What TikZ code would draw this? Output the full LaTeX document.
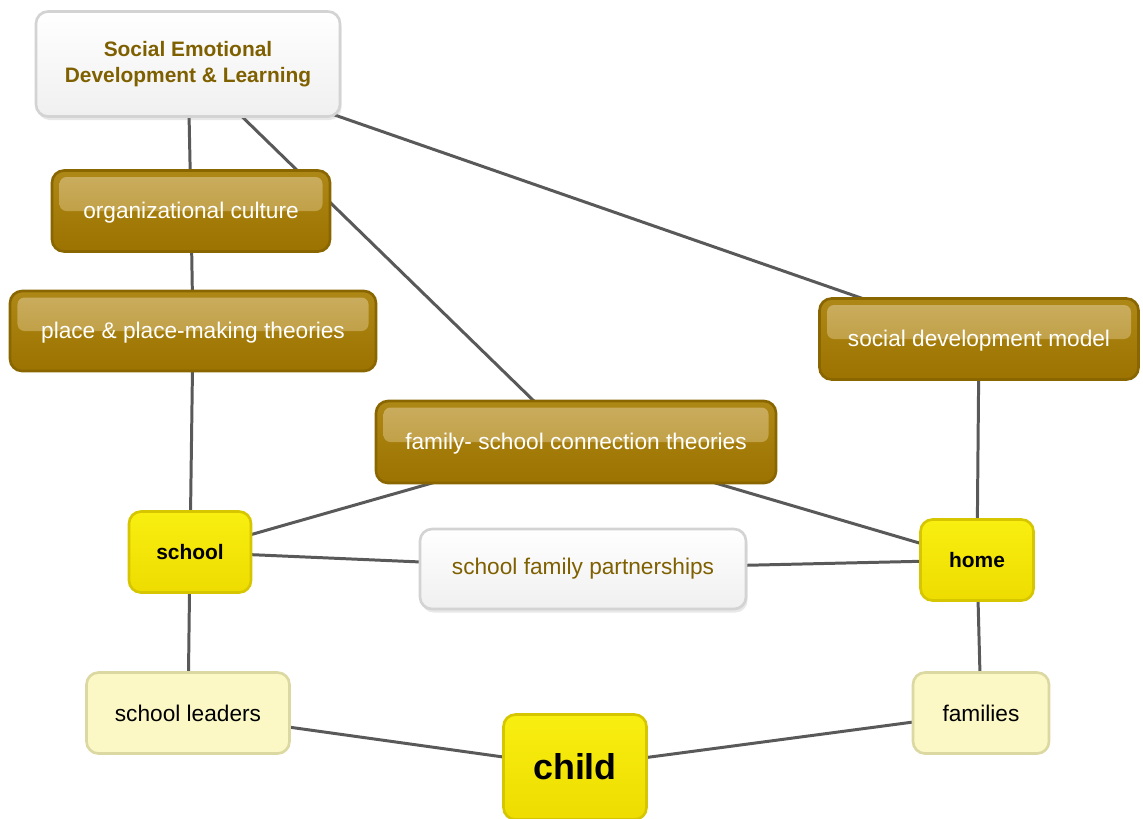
\documentclass[tikz,border=0pt]{standalone}
\usepackage{fontspec}
\setmainfont{Liberation Sans}
\usetikzlibrary{shapes,positioning,calc,shadows,backgrounds}

\definecolor{goldtop}{HTML}{AE8816}
\definecolor{goldbot}{HTML}{9C7200}
\definecolor{goldline}{HTML}{8A6600}
\definecolor{goldgloss}{HTML}{CBAE62}
\definecolor{goldtext}{HTML}{7F6000}
\definecolor{yeltop}{HTML}{F8EF10}
\definecolor{yelbot}{HTML}{EEDC00}
\definecolor{yelline}{HTML}{D6C600}
\definecolor{paleyel}{HTML}{FBF8C6}
\definecolor{paleline}{HTML}{DCD8A2}
\definecolor{greyline}{HTML}{D3D3D3}
\definecolor{linkgrey}{HTML}{595959}

\tikzset{
  box/.style={rectangle, rounded corners=0.24cm, line width=1.5pt, align=center, inner sep=0pt},
  goldbox/.style={box, draw=goldline, top color=goldtop, bottom color=goldbot, text=white,
    font=\fontsize{12.9}{15}\selectfont, text depth=0.02cm,
    path picture={\shade[top color=goldgloss, bottom color=goldtop!70!goldgloss, rounded corners=0.14cm]
      ($(path picture bounding box.north west)+(0.15,-0.13)$) rectangle
      ($(path picture bounding box.east)+(-0.15,0.0)$);}},
  whitebox/.style={box, draw=greyline, top color=white, bottom color=gray!12,
    drop shadow={opacity=0.18, shadow xshift=0.03, shadow yshift=-0.07}},
  yelbox/.style={box, draw=yelline, top color=yeltop, bottom color=yelbot,
    font=\bfseries\fontsize{11.9}{14}\selectfont},
  palebox/.style={box, draw=paleline, fill=paleyel, font=\fontsize{12.9}{15}\selectfont},
  link/.style={line width=1.7pt, draw=linkgrey}
}

\begin{document}
\begin{tikzpicture}
\useasboundingbox (0,0) rectangle (22.86,-16.36);

% Top concept
\node[whitebox, minimum width=6.08cm, minimum height=2.1cm, text=goldtext,
  font=\bfseries\fontsize{11.9}{14.7}\selectfont] (sedl) at (3.76,-1.28)
{Social Emotional\\Development \& Learning};

% Theories
\node[goldbox, minimum width=5.56cm, minimum height=1.62cm] (orgcult) at (3.82,-4.22)
{organizational culture};
\node[goldbox, minimum width=7.32cm, minimum height=1.6cm] (place) at (3.86,-6.62)
{place \& place-making theories};
\node[goldbox, minimum width=6.38cm, minimum height=1.62cm] (sdm) at (19.58,-6.78)
{social development model};
\node[goldbox, minimum width=8cm, minimum height=1.64cm] (fsc) at (11.52,-8.84)
{family- school connection theories};

% Settings
\node[yelbox, minimum width=2.44cm, minimum height=1.62cm] (school) at (3.8,-11.04)
{school};
\node[yelbox, minimum width=2.26cm, minimum height=1.62cm] (home) at (19.54,-11.2)
{home};
\node[whitebox, minimum width=6.52cm, minimum height=1.6cm, text=goldtext,
  font=\fontsize{12.9}{15}\selectfont] (sfp) at (11.66,-11.38)
{school family partnerships};

% People
\node[palebox, minimum width=4.06cm, minimum height=1.62cm] (leaders) at (3.76,-14.26)
{school leaders};
\node[palebox, minimum width=2.72cm, minimum height=1.62cm] (families) at (19.62,-14.26)
{families};
\node[yelbox, minimum width=2.86cm, minimum height=2.1cm,
  font=\bfseries\fontsize{20.4}{24}\selectfont] (child) at (11.5,-15.34)
{child};

% Links
\begin{scope}[on background layer]
\draw[link] (sedl.center) -- (orgcult.center);
\draw[link] (sedl.center) -- (fsc.center);
\draw[link] (sedl.center) -- (sdm.center);
\draw[link] (orgcult.center) -- (place.center);
\draw[link] (place.center) -- (school.center);
\draw[link] (sdm.center) -- (home.center);
\draw[link] (fsc.center) -- (school.center);
\draw[link] (fsc.center) -- (home.center);
\draw[link] (school.center) -- (sfp.center);
\draw[link] (sfp.center) -- (home.center);
\draw[link] (school.center) -- (leaders.center);
\draw[link] (home.center) -- (families.center);
\draw[link] (leaders.center) -- (child.center);
\draw[link] (child.center) -- (families.center);
\end{scope}
\end{tikzpicture}
\end{document}
